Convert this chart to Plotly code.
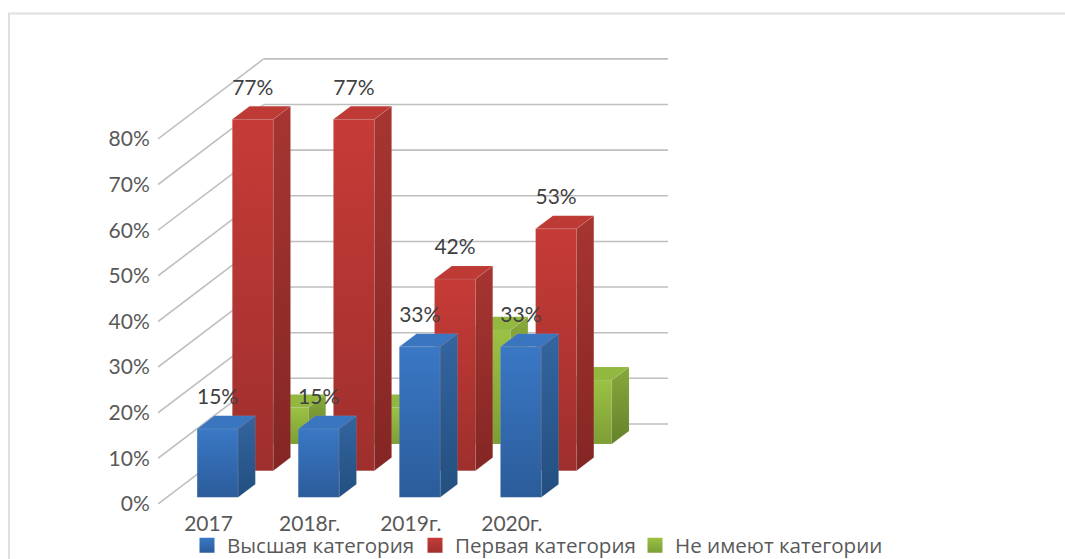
import plotly.graph_objects as go

categories = ["2017", "2018г.", "2019г.", "2020г."]
high_cat = [15, 15, 33, 33]
first_cat = [77, 77, 42, 53]
none_cat = [8, 8, 25, 14]
series_names = ["Высшая категория", "Первая категория", "Не имеют категории"]
y_ticks = [0, 10, 20, 30, 40, 50, 60, 70, 80]
y_labels = ["0%", "10%", "20%", "30%", "40%", "50%", "60%", "70%", "80%"]

W, H = 1065, 559
PX_X, PX_Y = 101.1, 4.56      # pixels per category / per percent
LEFT, FLOOR = 158, 503.7
RIGHT, TOP = 1060, 20
DX, DY = 35.2 / PX_X, 26.67 / PX_Y   # oblique shift per depth slot

def proj(u, d, v):
    return u + d * DX, v + d * DY

faces = {
    0: dict(front=("#2B5C9A", "#3A78C5"), side=("#234F80", "#33659F"), top=("#3A75C0", "#3A75C0")),
    1: dict(front=("#9E2F2D", "#C63B37"), side=("#842624", "#A73531"), top=("#BE3A35", "#BE3A35")),
    2: dict(front=("#7D9E35", "#9BC144"), side=("#64822A", "#88A83C"), top=("#93B840", "#93B840")),
}
values = [high_cat, first_cat, none_cat]

fig = go.Figure()

# gridlines on left wall and rear wall
gx, gy = [], []
for t in y_ticks:
    for a, b in ((proj(0, 0, t), proj(0, 3, t)), (proj(0, 3, t), proj(4, 3, t))):
        gx += [a[0], b[0], None]
        gy += [a[1], b[1], None]
fig.add_trace(go.Scatter(x=gx, y=gy, mode="lines", line=dict(color="#BFBFBF", width=1.6),
                         showlegend=False, hoverinfo="skip", cliponaxis=False))

def face(pts, cols):
    xs = [p[0] for p in pts] + [pts[0][0]]
    ys = [p[1] for p in pts] + [pts[0][1]]
    fig.add_trace(go.Scatter(
        x=xs, y=ys, mode="lines", fill="toself",
        line=dict(color="rgba(205,205,205,0.25)", width=0.5),
        fillgradient=dict(type="vertical", colorscale=[[0, cols[0]], [1, cols[1]]]),
        showlegend=False, hoverinfo="skip", cliponaxis=False))

for s in (2, 1, 0):
    d0, d1 = s + 0.25, s + 0.74
    for i, v in enumerate(values[s]):
        u0, u1 = i + 0.30, i + 0.705
        face([proj(u0, d0, 0), proj(u1, d0, 0), proj(u1, d0, v), proj(u0, d0, v)], faces[s]["front"])
        face([proj(u1, d0, 0), proj(u1, d1, 0), proj(u1, d1, v), proj(u1, d0, v)], faces[s]["side"])
        face([proj(u0, d0, v), proj(u1, d0, v), proj(u1, d1, v), proj(u0, d1, v)], faces[s]["top"])

# data labels for the first two series
for s in (0, 1):
    lx, ly, lt = [], [], []
    for i, v in enumerate(values[s]):
        p = proj(i + 0.5025, s + 0.25, v)
        lx.append(p[0]); ly.append(p[1] + 30 / PX_Y); lt.append(f"{v}%")
    fig.add_trace(go.Scatter(x=lx, y=ly, text=lt, mode="text", textposition="middle center",
                             textfont=dict(family="Lato", size=21, color="#404040"),
                             showlegend=False, hoverinfo="skip", cliponaxis=False))

# chart frame
fx = lambda px: (px - LEFT) / (RIGHT - LEFT)
fy = lambda py: (FLOOR - py) / (FLOOR - TOP)

# legend keys, one legend per entry so each can sit at its own place
legend_ids = ["legend", "legend2", "legend3"]
legend_left = [187, 415, 635]
legend_layout = {}
for s, name in enumerate(series_names):
    fig.add_trace(go.Scatter(
        x=[None], y=[None], mode="markers", name=name, legend=legend_ids[s], showlegend=True,
        marker=dict(symbol="square", size=15, color=faces[s]["front"][1],
                    gradient=dict(type="vertical", color=faces[s]["front"][0]))))
    legend_layout[legend_ids[s]] = dict(
        orientation="h", xanchor="left", yanchor="middle", x=fx(legend_left[s]), y=fy(545),
        font=dict(family="Open Sans", size=20.6, color="#595959"), bgcolor="rgba(0,0,0,0)", itemwidth=30)

fig.add_shape(type="line", xref="paper", yref="paper", x0=fx(9), x1=fx(9), y0=fy(H), y1=fy(13.5),
              line=dict(color="#E0E0E0", width=2))
fig.add_shape(type="line", xref="paper", yref="paper", x0=fx(8), x1=fx(W), y0=fy(13.5), y1=fy(13.5),
              line=dict(color="#E0E0E0", width=2))

fig.update_layout(
    width=W, height=H,
    margin=dict(l=LEFT, r=W - RIGHT, t=TOP, b=H - FLOOR, pad=0, autoexpand=False),
    paper_bgcolor="white", plot_bgcolor="rgba(0,0,0,0)",
    xaxis=dict(range=[0, (RIGHT - LEFT) / PX_X], tickvals=[i + 0.5 for i in range(4)], ticktext=categories,
               showgrid=False, zeroline=False, showline=False, ticks="", ticklabelstandoff=5,
               tickfont=dict(family="Lato", size=21, color="#595959")),
    yaxis=dict(range=[0, (FLOOR - TOP) / PX_Y], tickvals=y_ticks, ticktext=y_labels,
               showgrid=False, zeroline=False, showline=False, ticks="outside", ticklen=3, tickcolor="white",
               tickfont=dict(family="Lato", size=21, color="#595959")),
    **legend_layout,
)

fig.write_html("out.html", config=dict(displayModeBar=False),
               post_script="document.body.style.margin='0';document.body.style.overflow='hidden';")
